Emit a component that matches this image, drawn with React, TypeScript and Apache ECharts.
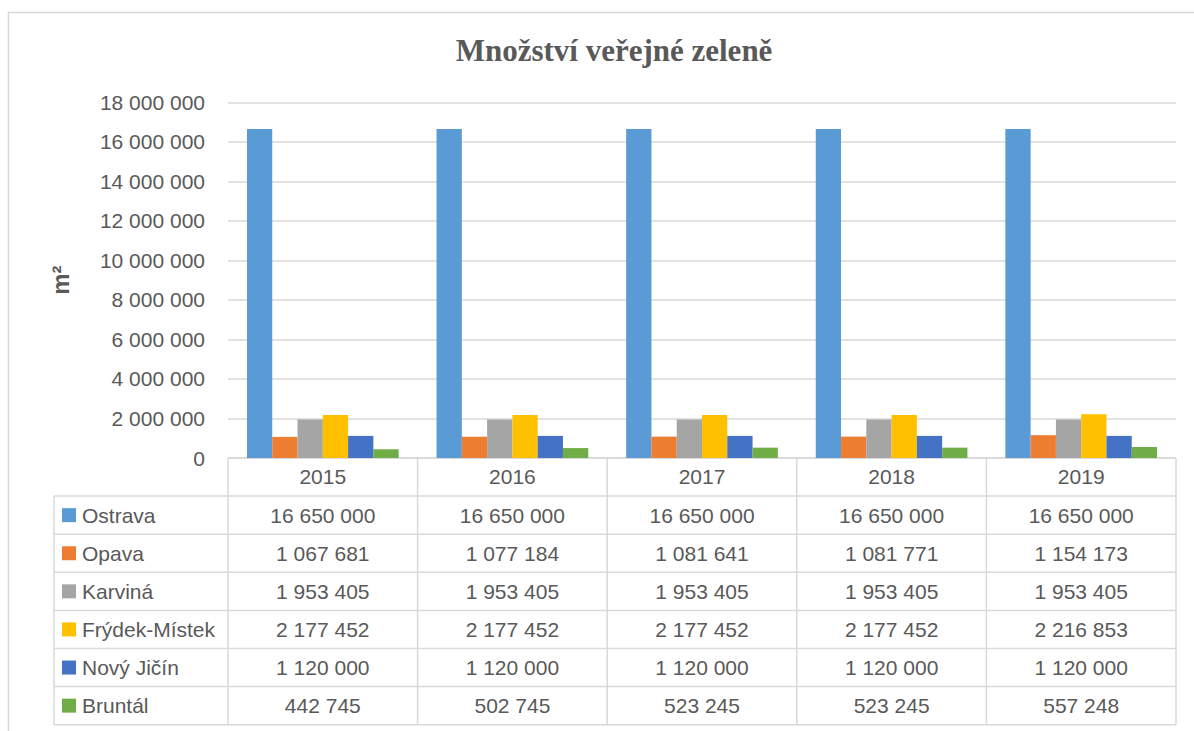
import React, { useEffect, useRef } from "react";
import * as echarts from "echarts";

const years = ["2015", "2016", "2017", "2018", "2019"];
const cities = ["Ostrava", "Opava", "Karviná", "Frýdek-Místek", "Nový Jičín", "Bruntál"];
const ostrava = [16650000, 16650000, 16650000, 16650000, 16650000];
const opava = [1067681, 1077184, 1081641, 1081771, 1154173];
const karvina = [1953405, 1953405, 1953405, 1953405, 1953405];
const frydekMistek = [2177452, 2177452, 2177452, 2177452, 2216853];
const novyJicin = [1120000, 1120000, 1120000, 1120000, 1120000];
const bruntal = [442745, 502745, 523245, 523245, 557248];
const seriesValues = [ostrava, opava, karvina, frydekMistek, novyJicin, bruntal];
const colors = ["#5B9BD5", "#ED7D31", "#A5A5A5", "#FFC000", "#4472C4", "#70AD47"];
const yMin = 0;
const yMax = 18000000;
const yInterval = 2000000;

const fmt = (v: number) => String(Math.round(v)).replace(/\B(?=(\d{3})+(?!\d))/g, " ");

const FONT = "'Liberation Sans', Arial, sans-serif";
const TEXT = "#595959";
const LINE = "#d9d9d9";

export default function App() {
  const ref = useRef<HTMLDivElement>(null);
  useEffect(() => {
    if (!ref.current) return;
    const chart = echarts.init(ref.current, undefined, { renderer: "svg" });
    const gridLeft = 228;
    const gridRight = 1176;
    const gridTop = 102.3;
    const gridBottom = 458;
    const tableLeft = 54;
    const rowH = 38.1;
    const nRows = cities.length + 1;
    const catW = (gridRight - gridLeft) / years.length;

    const graphics: any[] = [];
    // outer border
    graphics.push({
      type: "rect",
      shape: { x: 8.5, y: 12.5, width: 1300, height: 900 },
      style: { fill: "none", stroke: LINE, lineWidth: 1.5 },
      silent: true,
    });
    // horizontal table lines
    for (let r = 1; r <= nRows; r++) {
      const y = gridBottom + r * rowH;
      graphics.push({
        type: "line",
        shape: { x1: tableLeft, y1: y, x2: gridRight, y2: y },
        style: { stroke: LINE, lineWidth: 1.5 },
        silent: true,
      });
    }
    graphics.push({
      type: "line",
      shape: { x1: gridLeft, y1: gridBottom, x2: gridRight, y2: gridBottom },
      style: { stroke: LINE, lineWidth: 1.5 },
      silent: true,
    });
    // vertical lines
    for (let c = 0; c <= years.length; c++) {
      const x = gridLeft + c * catW;
      graphics.push({
        type: "line",
        shape: { x1: x, y1: gridBottom, x2: x, y2: gridBottom + nRows * rowH },
        style: { stroke: LINE, lineWidth: 1.5 },
        silent: true,
      });
    }
    graphics.push({
      type: "line",
      shape: { x1: tableLeft, y1: gridBottom + rowH, x2: tableLeft, y2: gridBottom + nRows * rowH },
      style: { stroke: LINE, lineWidth: 1.5 },
      silent: true,
    });
    // row labels and values
    cities.forEach((city, r) => {
      const cy = gridBottom + (r + 1.5) * rowH;
      graphics.push({
        type: "rect",
        shape: { x: 62, y: cy - 7, width: 14, height: 14 },
        style: { fill: colors[r] },
        silent: true,
      });
      graphics.push({
        type: "text",
        x: 82,
        y: cy,
        style: { text: city, fontSize: 21, fontFamily: FONT, fill: TEXT, align: "left", verticalAlign: "middle" },
        silent: true,
      });
      seriesValues[r].forEach((v, c) => {
        graphics.push({
          type: "text",
          x: gridLeft + (c + 0.5) * catW,
          y: cy,
          style: { text: fmt(v), fontSize: 21, fontFamily: FONT, fill: TEXT, align: "center", verticalAlign: "middle" },
          silent: true,
        });
      });
    });

    chart.setOption({
      animation: false,
      backgroundColor: "#ffffff",
      title: {
        text: "Množství veřejné zeleně",
        left: 609,
        textAlign: "center",
        top: 30,
        textStyle: { fontFamily: "'Liberation Serif', 'Times New Roman', serif", fontWeight: "bold", fontSize: 31, color: TEXT },
      },
      grid: { left: gridLeft, right: 1194 - gridRight, top: gridTop, bottom: 731 - gridBottom, containLabel: false },
      xAxis: {
        type: "category",
        data: years,
        axisLine: { show: false },
        axisTick: { show: false },
        axisLabel: { margin: 8, fontSize: 21, fontFamily: FONT, color: TEXT },
      },
      yAxis: {
        type: "value",
        min: yMin,
        max: yMax,
        interval: yInterval,
        name: "m²",
        nameLocation: "middle",
        nameRotate: 90,
        nameGap: 156,
        nameTextStyle: { fontSize: 24, fontWeight: "bold", fontFamily: FONT, color: TEXT },
        axisLine: { show: false },
        axisTick: { show: false },
        axisLabel: { margin: 23, fontSize: 21, fontFamily: FONT, color: TEXT, formatter: (v: number) => fmt(v) },
        splitLine: { lineStyle: { color: LINE, width: 1.5 } },
      },
      series: cities.map((city, i) => ({
        name: city,
        type: "bar",
        data: seriesValues[i],
        itemStyle: { color: colors[i] },
        barGap: "0%",
        barCategoryGap: "20%",
      })),
      graphic: graphics,
    });
    return () => chart.dispose();
  }, []);
  return <div ref={ref} style={{ position: "absolute", left: 0, top: 0, width: 1194, height: 731 }} />;
}
